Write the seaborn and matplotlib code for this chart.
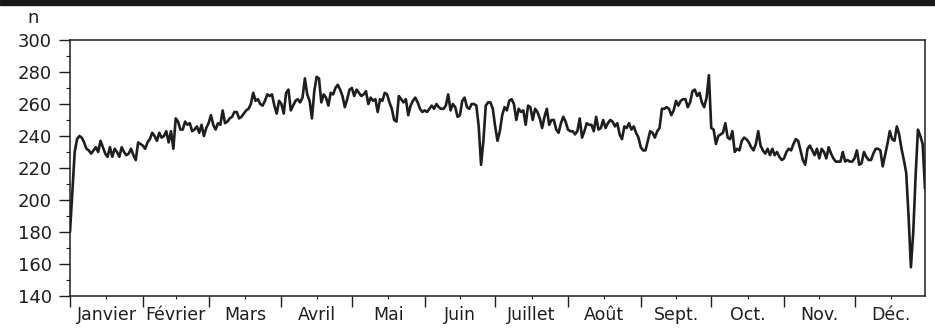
import numpy as np
import pandas as pd
import matplotlib
matplotlib.use("Agg")
import matplotlib.pyplot as plt
from matplotlib.patches import Rectangle
import seaborn as sns

# Month labels and lengths (non-leap year)
months = ["Janvier", "Février", "Mars", "Avril", "Mai", "Juin",
          "Juillet", "Août", "Sept.", "Oct.", "Nov.", "Déc."]
month_days = [31, 28, 31, 30, 31, 30, 31, 31, 30, 31, 30, 31]

# Daily counts, month by month
jan = [180, 205, 230, 238, 240, 239, 236, 232, 231, 229, 231, 233, 230, 237, 233, 229,
       227, 233, 227, 232, 230, 227, 233, 230, 228, 229, 232, 228, 225, 236, 235]
feb = [234, 232, 236, 238, 242, 240, 237, 242, 239, 240, 243, 236, 243, 232, 251, 249,
       244, 244, 249, 247, 248, 243, 244, 246, 242, 247, 240, 245]
mar = [248, 253, 247, 244, 248, 247, 256, 248, 249, 251, 252, 255, 255, 251, 252, 254,
       256, 257, 260, 267, 262, 263, 260, 259, 262, 266, 265, 266, 259, 254, 262]
apr = [260, 254, 267, 269, 256, 259, 262, 263, 261, 264, 276, 266, 262, 251, 268, 277,
       276, 261, 266, 264, 259, 267, 266, 270, 272, 269, 265, 258, 263, 269]
may = [270, 265, 269, 267, 265, 266, 268, 260, 264, 262, 263, 255, 263, 262, 267, 266,
       261, 257, 250, 249, 265, 263, 261, 263, 253, 259, 262, 264, 261, 257, 255]
jun = [256, 255, 257, 259, 257, 260, 258, 257, 257, 259, 266, 256, 260, 258, 252, 253,
       262, 264, 258, 257, 260, 260, 259, 246, 222, 237, 259, 261, 261, 257]
jul = [246, 237, 243, 253, 258, 256, 262, 263, 260, 250, 257, 255, 256, 247, 259, 258,
       250, 257, 255, 251, 245, 252, 257, 247, 250, 250, 244, 242, 248, 252, 249]
aug = [244, 243, 243, 241, 243, 251, 239, 243, 248, 247, 247, 243, 252, 244, 245, 250,
       245, 248, 250, 249, 246, 248, 241, 238, 246, 245, 248, 244, 246, 242, 239]
sep = [233, 231, 231, 237, 243, 242, 239, 243, 245, 257, 257, 258, 257, 253, 256, 262,
       259, 262, 263, 263, 258, 261, 268, 269, 265, 267, 261, 258, 264, 278]
oct_ = [245, 244, 235, 240, 241, 242, 248, 239, 238, 243, 230, 232, 231, 237, 239, 238,
        236, 233, 231, 235, 243, 234, 231, 229, 232, 228, 232, 228, 230, 227, 225]
nov = [226, 230, 232, 231, 235, 238, 237, 231, 225, 222, 232, 234, 231, 228, 232, 226,
       232, 230, 226, 233, 229, 226, 224, 224, 224, 230, 224, 225, 224, 224]
dec = [226, 231, 222, 223, 230, 227, 225, 225, 229, 232, 232, 231, 221, 228, 235, 243,
       238, 237, 246, 241, 232, 225, 217, 190, 158, 180, 215, 244, 240, 235, 207]

n_daily = jan + feb + mar + apr + may + jun + jul + aug + sep + oct_ + nov + dec
df = pd.DataFrame({"jour": np.arange(len(n_daily)), "n": n_daily})

sns.set_theme(style="ticks")
plt.rcParams["font.family"] = ["DejaVu Sans"]

ink = "#1e1e1e"
fig = plt.figure(figsize=(9.35, 3.28), dpi=100)
ax = fig.add_axes([70 / 935, 1 - 296 / 328, 855 / 935, 256 / 328])

sns.lineplot(data=df, x="jour", y="n", color=ink, linewidth=1.9, ax=ax)

ax.set_xlim(0, len(n_daily) - 1)
ax.set_ylim(140, 300)

starts = np.cumsum([0] + month_days[:-1])
mids = starts + np.array(month_days) / 2
ax.set_xticks(starts)
ax.set_xticklabels([])
ax.set_xticks(mids, minor=True)
ax.set_xticklabels(months, minor=True)
ax.set_yticks(np.arange(140, 301, 20))
ax.set_yticks(np.arange(150, 300, 20), minor=True)

ax.tick_params(axis="x", which="major", length=8, width=1.0, color=ink)
ax.tick_params(axis="x", which="minor", length=2.5, width=0.8, color=ink,
               pad=4.5, labelsize=12.5, labelcolor=ink)
ax.tick_params(axis="y", which="major", length=8, width=1.0, color=ink,
               pad=5, labelsize=13, labelcolor=ink)
ax.tick_params(axis="y", which="minor", length=3, width=0.8, color=ink)
ax.set_xlabel("")
ax.set_ylabel("")
for s in ax.spines.values():
    s.set_linewidth(1.1)
    s.set_color(ink)

fig.text(33 / 935, 1 - 18 / 328, "n", ha="center", va="center",
         fontsize=13, color=ink)

# Dark band across the top edge
fig.patches.append(Rectangle((0, 1 - 5 / 328), 1, 5 / 328,
                             transform=fig.transFigure, color="#1a1a1a"))

fig.savefig("out.png", dpi=100)
